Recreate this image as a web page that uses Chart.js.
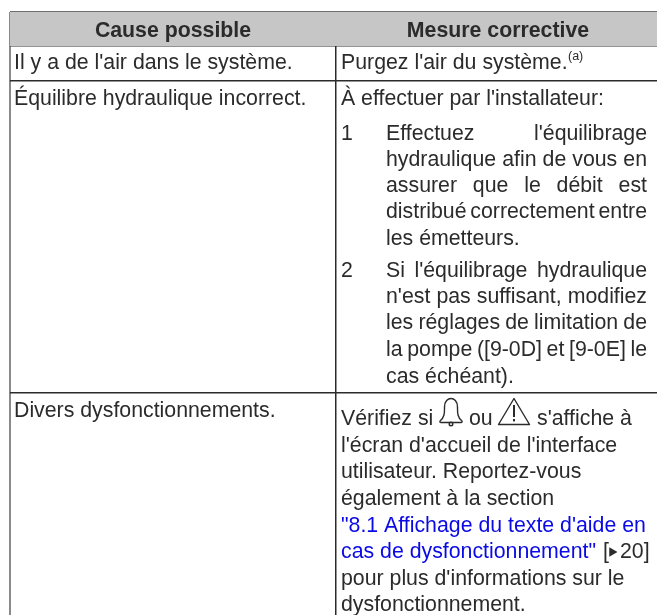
<!DOCTYPE html>
<html lang="fr">
<head>
<meta charset="utf-8">
<title>Cause possible / Mesure corrective</title>
<script src="https://cdn.jsdelivr.net/npm/chart.js@4"></script>
<style>
  html, body { margin: 0; padding: 0; background: #fff; }
  canvas { display: block; filter: blur(0.4px); }
</style>
</head>
<body>
<canvas id="tableChart" width="657" height="615"></canvas>
<script>
// Table content
const headerLabels = ['Cause possible', 'Mesure corrective'];
const headerRow = [30, 30];

const causeLabels = ["Il y a de l'air dans le système.", 'Équilibre hydraulique incorrect.', 'Divers dysfonctionnements.'];
const causeRows = [62, 98, 410];

const plainLabels = ["Purgez l'air du système.", "À effectuer par l'installateur:", "l'écran d'accueil de l'interface",
    'utilisateur. Reportez-vous', 'également à la section', "pour plus d'informations sur le", 'dysfonctionnement.'];
const plainRows = [62, 98, 445, 471, 498, 578, 604];

const stepNumbers = ['1', '2'];
const stepRows = [133, 270];

const justifiedLabels = ["Effectuez l'équilibrage", 'hydraulique afin de vous en', 'assurer que le débit est',
    'distribué correctement entre', "Si l'équilibrage hydraulique", "n'est pas suffisant, modifiez",
    'les réglages de limitation de', 'la pompe ([9-0D] et [9-0E] le'];
const justifiedRows = [133, 159, 185, 211, 270, 296, 322, 349];

const stepEndLabels = ['les émetteurs.', 'cas échéant).'];
const stepEndRows = [238, 376];

const linkLabels = ['"8.1 Affichage du texte d\'aide en', 'cas de dysfonctionnement"'];
const linkRows = [525, 551];

// Words of the lines that have icons or small marks in them
const inlineLabels = ['Vérifiez si', 'ou', "s'affiche à", '[', '20]'];
const inlineColumns = [341, 469, 537, 603, 620];
const inlineRows = [418, 418, 418, 551, 551];

const noteLabels = ['(a)'];
const noteColumns = [568];
const noteRows = [55];

const columnEdges = [10, 336];
const rowEdges = [12, 46, 81, 393];

const TEXT_COLOR = '#2b2b2b';
const LINK_COLOR = '#0a0ae6';
const BODY_FONT = '21.3px "Liberation Sans", Arial, sans-serif';
const HEADER_FONT = 'bold 21.3px "Liberation Sans", Arial, sans-serif';
const JUSTIFY_RIGHT = 647;
const TEXT_DROP = 1.5; // 'middle' sits a little above the centre of the letters

/**
 * Build a text dataset: invisible points, their labels are drawn by the plugin below
 */
function textDataset(labels, xs, ys, extra) {
    return Object.assign({
        type: 'scatter',
        data: labels.map((label, i) => ({ x: Array.isArray(xs) ? xs[i] : xs, y: ys[i] })),
        pointRadius: 0,
        showLine: false,
        labels: labels,
        textFont: BODY_FONT,
        textColor: TEXT_COLOR,
        textAlign: 'left'
    }, extra || {});
}

/**
 * Small icons used as point styles
 */
function makeBell() {
    const c = document.createElement('canvas');
    c.width = 26;
    c.height = 30;
    const g = c.getContext('2d');
    g.strokeStyle = TEXT_COLOR;
    g.lineWidth = 1.4;
    g.lineJoin = 'round';
    g.beginPath();
    g.moveTo(2, 24);
    g.bezierCurveTo(7, 20, 6.5, 15, 6.5, 10);
    g.bezierCurveTo(6.5, 4, 10, 1.5, 13, 1.5);
    g.bezierCurveTo(16, 1.5, 19.5, 4, 19.5, 10);
    g.bezierCurveTo(19.5, 15, 19, 20, 24, 24);
    g.quadraticCurveTo(24.5, 25.5, 23, 25.5);
    g.lineTo(3, 25.5);
    g.quadraticCurveTo(1.5, 25.5, 2, 24);
    g.stroke();
    g.beginPath();
    g.arc(13, 27, 1.8, 0, Math.PI * 2);
    g.stroke();
    return c;
}

function makeWarning() {
    const c = document.createElement('canvas');
    c.width = 34;
    c.height = 30;
    const g = c.getContext('2d');
    g.strokeStyle = TEXT_COLOR;
    g.fillStyle = TEXT_COLOR;
    g.lineWidth = 1.4;
    g.lineJoin = 'round';
    g.beginPath();
    g.moveTo(17, 1.5);
    g.lineTo(32.5, 27.5);
    g.lineTo(1.5, 27.5);
    g.closePath();
    g.stroke();
    g.fillRect(16, 8, 2, 12);
    g.fillRect(16, 22, 2, 2.4);
    return c;
}

const iconColumns = [451, 514];
const iconRows = [412, 412];

// Draws the label of every point of a text dataset
const tableTextPlugin = {
    id: 'tableText',
    afterDatasetsDraw(chart) {
        const ctx = chart.ctx;
        ctx.save();
        ctx.textBaseline = 'middle';
        chart.data.datasets.forEach((dataset, index) => {
            if (!dataset.labels) return;
            ctx.font = dataset.textFont;
            ctx.fillStyle = dataset.textColor;
            ctx.textAlign = dataset.textAlign;
            chart.getDatasetMeta(index).data.forEach((point, i) => {
                const label = dataset.labels[i];
                const y = point.y + TEXT_DROP;
                if (!dataset.justify) {
                    ctx.fillText(label, point.x, y);
                    return;
                }
                // Spread the words up to the right edge of the column
                const words = label.split(' ');
                const used = words.reduce((sum, word) => sum + ctx.measureText(word).width, 0);
                const gap = (JUSTIFY_RIGHT - point.x - used) / (words.length - 1);
                let x = point.x;
                words.forEach(word => {
                    ctx.fillText(word, x, y);
                    x += ctx.measureText(word).width + gap;
                });
            });
        });
        ctx.restore();
    }
};

new Chart(document.getElementById('tableChart'), {
    type: 'scatter',
    data: {
        datasets: [
            // Grey band behind the header row
            {
                type: 'line',
                data: [{ x: 10, y: rowEdges[1] }, { x: 657, y: rowEdges[1] }],
                borderWidth: 0,
                pointRadius: 0,
                backgroundColor: '#c6c6c6',
                fill: 'end'
            },
            textDataset(headerLabels, [173, 498], headerRow, { textFont: HEADER_FONT, textAlign: 'center' }),
            textDataset(causeLabels, 14, causeRows),
            textDataset(plainLabels, 341, plainRows),
            textDataset(stepNumbers, 341, stepRows),
            textDataset(justifiedLabels, 386, justifiedRows, { justify: true }),
            textDataset(stepEndLabels, 386, stepEndRows),
            textDataset(linkLabels, 341, linkRows, { textColor: LINK_COLOR }),
            textDataset(inlineLabels, inlineColumns, inlineRows),
            textDataset(noteLabels, noteColumns, noteRows, { textFont: '12.5px "Liberation Sans", Arial, sans-serif' }),
            {
                type: 'scatter',
                data: iconColumns.map((x, i) => ({ x: x, y: iconRows[i] })),
                pointStyle: [makeBell(), makeWarning()],
                pointRadius: 10,
                showLine: false
            },
            // Small arrow in the page reference
            {
                type: 'scatter',
                data: [{ x: 612, y: 552 }],
                pointStyle: 'triangle',
                rotation: 90,
                pointRadius: 5.5,
                pointBackgroundColor: TEXT_COLOR,
                pointBorderWidth: 0,
                showLine: false
            }
        ]
    },
    plugins: [tableTextPlugin],
    options: {
        responsive: false,
        animation: false,
        events: [],
        layout: { autoPadding: false, padding: { left: 10, top: 12, right: 0, bottom: 0 } },
        plugins: {
            legend: { display: false },
            tooltip: { enabled: false }
        },
        scales: {
            x: {
                type: 'linear',
                min: 10,
                max: 657,
                afterBuildTicks: axis => { axis.ticks = columnEdges.map(value => ({ value })); },
                ticks: { display: false, autoSkip: false },
                border: { display: false },
                grid: {
                    drawTicks: false,
                    color: c => (c.index === 0 ? '#8a8a8a' : '#2b2b2b'),
                    lineWidth: c => (c.index === 0 ? 2 : 1.5)
                }
            },
            y: {
                type: 'linear',
                reverse: true,
                min: 12,
                max: 615,
                afterBuildTicks: axis => { axis.ticks = rowEdges.map(value => ({ value })); },
                ticks: { display: false, autoSkip: false },
                border: { display: false },
                grid: {
                    drawTicks: false,
                    color: c => (c.index === 0 ? '#6e6e6e' : '#2b2b2b'),
                    lineWidth: c => (c.index === 0 ? 2 : 1.5)
                }
            }
        }
    }
});
</script>
</body>
</html>
